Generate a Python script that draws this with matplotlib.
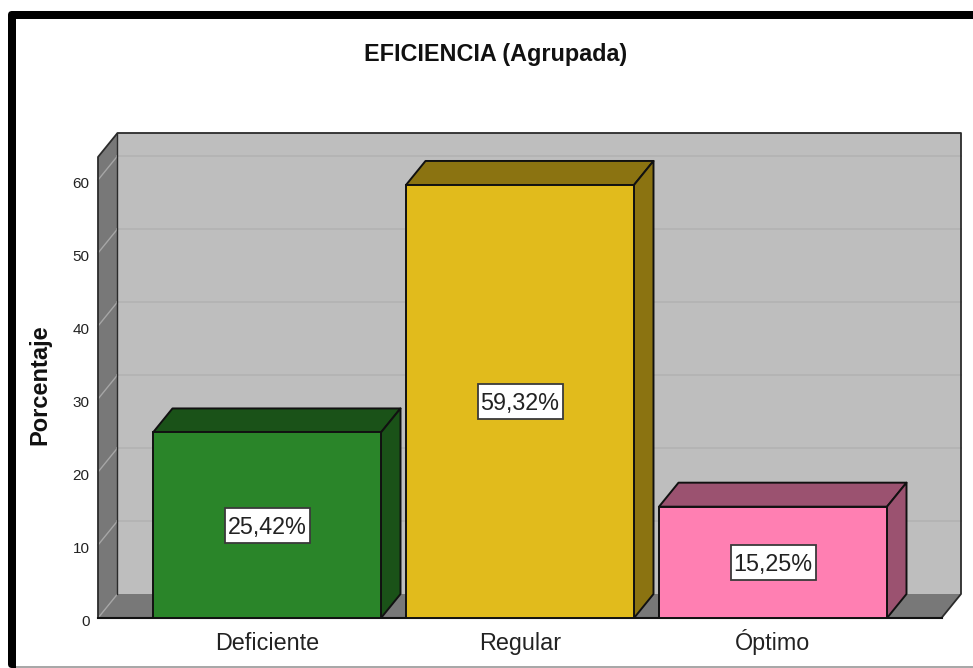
import matplotlib
matplotlib.use("Agg")
import matplotlib.pyplot as plt
import matplotlib.transforms as mtrans
from matplotlib.patches import Polygon, Rectangle, FancyBboxPatch

plt.rcParams["font.family"] = ["Liberation Sans", "DejaVu Sans"]

# -----------------------------
# Data
# -----------------------------

categorias = ["Deficiente", "Regular", "Óptimo"]
porcentajes = [25.42, 59.32, 15.25]
etiquetas = ["25,42%", "59,32%", "15,25%"]
y_ticks = [0, 10, 20, 30, 40, 50, 60]

colores = ["#2A8529", "#E1BB1C", "#FF7FB2"]
colores_osc = ["#1A5218", "#8B7311", "#9B5270"]

W, H = 973, 668

# -----------------------------
# Figure + frame
# -----------------------------

fig = plt.figure(figsize=(W / 100, H / 100), dpi=100, facecolor="white")

frame = FancyBboxPatch(
    (8, 0), 1000, H - 11,
    boxstyle="round,pad=0,rounding_size=4",
    transform=mtrans.Affine2D().scale(1 / W, 1 / H) + fig.transFigure,
    fc="black", ec="none", zorder=-3,
)
fig.patches.append(frame)
fig.patches.append(Rectangle(
    (16, 0), 1000, H - 19,
    transform=mtrans.Affine2D().scale(1 / W, 1 / H) + fig.transFigure,
    fc="white", ec="none", zorder=-2,
))
fig.patches.append(Rectangle(
    (16, 0), 1000, 2,
    transform=mtrans.Affine2D().scale(1 / W, 1 / H) + fig.transFigure,
    fc="#A8A8A8", ec="none", zorder=-1,
))

# -----------------------------
# Axes (front plane of the 3D box)
# -----------------------------

left, right, bottom, top = 98, 941.5, 618, 157
ax = fig.add_axes([left / W, 1 - bottom / H, (right - left) / W, (bottom - top) / H])
ax.patch.set_visible(False)

px_y = 7.3      # pixels per percent
paso = 253      # pixels between bars
ax.set_xlim((left - 267) / paso, (right - 267) / paso)
ax.set_ylim(0, (bottom - top) / px_y)

dx = 19.5 / paso
dy = 24 / px_y
ancho = 228 / paso
caja_w = 85 / paso
caja_h = 35 / px_y

x0, x1 = ax.get_xlim()
y1 = ax.get_ylim()[1]
oscuro = "#2B2B2B"

# walls
ax.add_patch(Rectangle((x0 + dx, dy), x1 - x0, y1, fc="#BEBEBE", ec="none", clip_on=False, zorder=1))
ax.add_patch(Polygon([(x0, 0), (x0 + dx, dy), (x0 + dx, y1 + dy), (x0, y1)],
                     fc="#787878", ec="none", clip_on=False, zorder=1))
ax.add_patch(Polygon([(x0, 0), (x1, 0), (x1 + dx, dy), (x0 + dx, dy)],
                     fc="#787878", ec="none", clip_on=False, zorder=1))

# gridlines on back and side wall
for t in y_ticks[1:]:
    ax.plot([x0 + dx, x1 + dx], [t + dy, t + dy], color="#B2B2B2", lw=1.1, clip_on=False, zorder=2)
    ax.plot([x0, x0 + dx], [t, t + dy], color="#A6A6A6", lw=1, clip_on=False, zorder=2)
ax.plot([x0, x0 + dx], [0, dy], color="#A6A6A6", lw=1, clip_on=False, zorder=2)

# box outline
ax.plot([x0, x0, x0 + dx, x1 + dx, x1 + dx, x1, x0],
        [0, y1, y1 + dy, y1 + dy, dy, 0, 0],
        color=oscuro, lw=1.3, clip_on=False, zorder=3)
ax.plot([x0 + dx, x0 + dx], [y1 + dy, dy], color=oscuro, lw=1.0, clip_on=False, zorder=3)
ax.plot([x0, x1], [0, 0], color="#111111", lw=1.5, clip_on=False, zorder=3)

# -----------------------------
# Bars
# -----------------------------

for i, v in enumerate(porcentajes):
    a = i - ancho / 2
    b = i + ancho / 2
    ax.bar(i, v, width=ancho, color=colores[i], edgecolor="#111111", linewidth=1.4, zorder=5)
    ax.add_patch(Polygon([(a, v), (a + dx, v + dy), (b + dx, v + dy), (b, v)],
                         fc=colores_osc[i], ec="#111111", lw=1.4, joinstyle="round", clip_on=False, zorder=4))
    ax.add_patch(Polygon([(b, 0), (b + dx, dy), (b + dx, v + dy), (b, v)],
                         fc=colores_osc[i], ec="#111111", lw=1.4, joinstyle="round", clip_on=False, zorder=4))
    ax.add_patch(Rectangle((i - caja_w / 2, v / 2 - caja_h / 2), caja_w, caja_h,
                           fc="white", ec="#3A3A3A", lw=1.3, zorder=6))
    ax.text(i, v / 2, etiquetas[i], ha="center", va="center_baseline", fontsize=16.8, color="#222222", zorder=7)

# -----------------------------
# Axes text
# -----------------------------

for s in ax.spines.values():
    s.set_visible(False)

ax.set_xticks(range(len(categorias)))
ax.set_xticklabels(categorias, fontsize=16.8, color="#222222")
ax.set_yticks(y_ticks)
ax.set_yticklabels([str(t) for t in y_ticks], fontsize=11, color="#222222")
ax.tick_params(axis="x", length=0, pad=23)
ax.tick_params(axis="y", length=0, pad=6)

for lab in ax.get_xticklabels():
    lab.set_verticalalignment("baseline")

baja = mtrans.ScaledTranslation(0, -2.5 / 100, fig.dpi_scale_trans)
for lab in ax.get_yticklabels():
    lab.set_transform(lab.get_transform() + baja)

ax.set_ylabel("Porcentaje", fontsize=17, fontweight="bold", color="#111111")
ax.yaxis.set_label_coords(-0.055, 0.506)

fig.text(495.5 / W, 1 - 54 / H, "EFICIENCIA (Agrupada)", ha="center", va="center",
         fontsize=16.8, fontweight="bold", color="#111111")

fig.savefig("out.png", dpi=100)
